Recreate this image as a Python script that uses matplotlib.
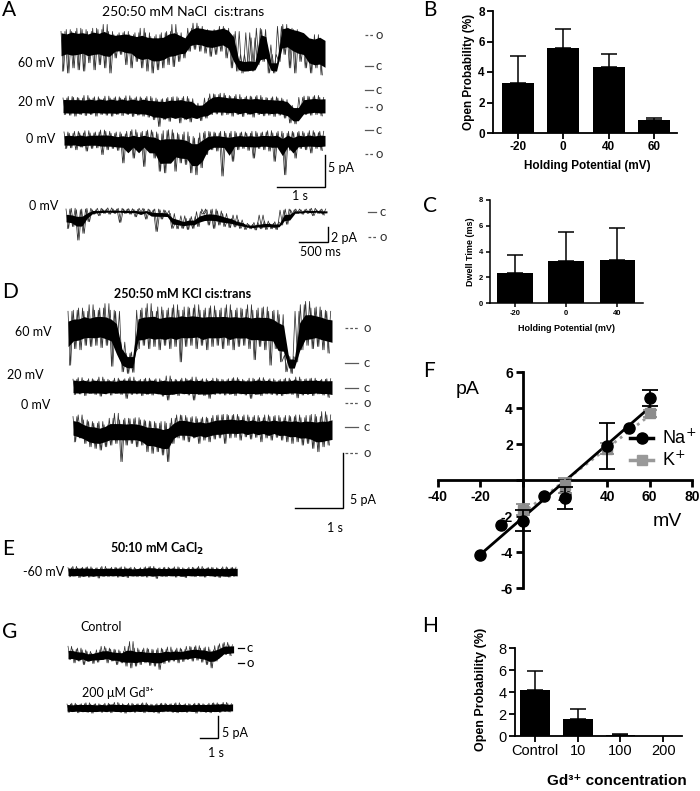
import numpy as np
import pandas as pd
import matplotlib
matplotlib.use('Agg')
import matplotlib.pyplot as plt
from matplotlib.lines import Line2D

plt.rcParams['font.family'] = ['Lato', 'DejaVu Sans']
PRISM = ['Liberation Sans', 'DejaVu Sans']

W, H = 700, 791

## Single-channel traces: max / min of each time bin, in pA (closed level = 0)

# A, NaCl 250:50, 5.5 s
a60_hi = [5.4, 5.7, 5.4, 5.9, 5.7, 5.4, 5.9, 5.7, 6.5, 5.4, 4.9, 5.2, 5.4, 4.9, 5.2, 5.9, 5.2, 4.6, 4.9, 5.2,
          5.4, 6.5, 5.2, 4.1, 5.9, 6.7, 6.2, 5.7, 5.4, 5.7, 6.2, 5.9, 4.9, 5.4, 1.8, 5.2, 4.4, 5.9, 5.7, 3.3,
          1.8, 6.2, 6.5, 5.9, 5.7, 4.9, 4.4, 3.9, 4.9, 3.6]
a60_lo = [-0.8, -1.1, -0.3, -0.6, -0.8, 0.5, -0.6, 0.2, -0.3, -1.1, 1.25, 1.8, 0.2, -0.3, 0.7, -0.3, -0.8, -1.1, -0.6, -0.3,
          0.2, -0.1, 0.7, 1.25, 2.3, 2.6, 2.3, 2.0, 1.5, 1.8, 2.3, 1.25, -0.3, -0.8, -1.1, -0.8, -0.8, 0.2, 0.7, -1.1,
          -1.1, 0.7, 1.8, -0.3, -1.1, 0.7, -0.3, -1.1, -0.3, -1.4]
# dense part of the 60 mV trace (mostly open, closed near 4.5 s and 5.3 s)
a60_core_hi = [5.2, 5.0, 5.3, 5.1, 5.2, 5.0, 5.3, 5.1, 5.4, 5.0, 4.8, 4.9, 5.0, 4.8, 4.6, 4.8, 4.5, 4.4, 4.4, 4.5,
               5.0, 5.2, 4.8, 4.4, 5.6, 6.0, 5.9, 5.7, 5.6, 5.7, 5.9, 5.6, 4.6, 0.9, 0.7, 0.8, 0.7, 4.9, 4.6, 0.5,
               0.5, 5.8, 6.0, 5.7, 5.5, 5.2, 4.4, 4.2, 4.5, 4.0]
a60_core_lo = [1.6, 1.9, 1.7, 1.8, 2.0, 1.6, 1.8, 1.9, 1.6, 1.5, 2.3, 2.4, 2.1, 2.0, 1.3, 1.0, 1.2, 0.8, 0.8, 1.0,
               1.5, 1.6, 1.9, 2.0, 3.2, 3.4, 3.3, 3.0, 2.9, 3.1, 3.3, 2.8, 0.8, -0.6, -0.8, -0.7, -0.6, 1.0, 1.2, -0.7,
               -0.8, 2.8, 3.0, 2.4, 2.0, 1.8, 0.5, 0.2, 0.3, -0.2]
a20_hi = [-1.25, -1.0, -1.15, -1.25, -0.85, -1.25, -1.05, -1.35, -0.95, -1.25, -1.05, -1.25, -0.9, -1.25, -1.05, -1.25,
          -1.0, -1.25, -1.5, -1.35, -1.15, -1.05, -1.25, -1.0, -1.35, -2.05, -2.55, -1.25, -0.6, -0.7, -0.5, -0.85,
          -1.0, -0.7, -1.15, -0.95, -1.05, -0.85, -1.15, -1.25, -1.05, -1.25, -1.5, -2.4, -2.8, -1.15, -0.95, -1.05,
          -0.85, -1.15]
a20_lo = [-3.85, -3.95, -4.1, -3.85, -4.0, -3.85, -4.1, -3.85, -3.95, -4.1, -3.85, -4.0, -3.85, -4.15, -3.95, -4.1,
          -4.25, -4.65, -5.7, -4.65, -4.9, -4.4, -5.15, -4.65, -5.0, -4.4, -4.8, -4.4, -3.85, -3.75, -3.95, -3.85,
          -4.1, -3.85, -4.15, -3.85, -4.25, -3.85, -4.05, -3.95, -4.15, -3.95, -4.4, -5.15, -5.3, -4.1, -3.85, -3.95,
          -3.85, -4.05]
a0_hi = [-0.3, -0.5, -0.2, -0.45, -0.1, -0.45, -0.3, 0.0, -0.2, -0.5, -0.3, -0.6, -0.2, 0.05, -0.4, -0.2, 0.0, -0.3,
         -0.6, -0.1, 0.05, -0.45, -0.7, -0.3, -1.0, -1.25, -0.45, -0.2, -0.3, -0.45, -0.2, -0.5, -0.2, -0.45, -0.3,
         -0.5, -0.2, -0.45, -0.3, -0.1, -0.45, -0.2, -0.5, -0.2, -0.4, -0.2, -0.45, -0.1, -0.4, -0.2]
a0_lo = [-2.9, -2.8, -3.1, -2.7, -3.3, -2.9, -2.8, -3.85, -3.1, -2.9, -3.2, -5.15, -3.3, -4.4, -3.1, -5.7, -3.3, -4.4,
         -6.45, -6.7, -4.4, -6.45, -5.15, -5.4, -6.7, -7.0, -5.9, -3.85, -3.1, -3.3, -7.2, -3.1, -4.9, -3.1, -2.9,
         -3.2, -4.4, -2.9, -3.1, -3.3, -4.9, -3.1, -7.0, -3.2, -4.4, -2.9, -3.1, -3.6, -2.9, -3.2]
a_open = [4.8, -2.65, -3.75]

# A, 0 mV expanded, 4.5 s
al_hi = [0.4, 0.5, 0.3, 0.4, 0.5, 0.3, 0.5, 0.4, 0.55, 0.4, 0.5, 0.4, 0.45, 0.35, 0.5, 0.4, 0.3, 0.4, 0.3, 0.2,
         -0.2, -1.3, -0.5, -0.85, -0.6, 0.05, 0.4, 0.3, 0.4, 0.15, -0.2, -0.85, -0.4, -1.05, -1.5, -1.65, -1.4, -0.4,
         -1.2, -1.5, -1.3, 0.25, 0.4, 0.3, 0.4, 0.3, 0.4, 0.5, 0.3, 0.4]
al_lo = [-2.2, -1.95, -3.75, -2.85, -1.3, -0.3, -0.5, -0.2, -0.3, -0.2, -1.4, -0.2, -0.3, -0.65, -0.2, -0.95, -0.3,
         -2.6, -0.95, -0.5, -2.2, -2.25, -2.2, -2.35, -2.2, -1.95, -0.3, -1.75, -2.2, -1.75, -1.95, -2.1, -2.0, -2.2,
         -2.35, -2.25, -2.4, -2.25, -2.35, -2.25, -2.35, -1.75, -1.65, -0.4, -0.2, -0.3, -0.2, -0.5, -0.2, -0.4]
al_open = -3.3

# D, KCl 250:50, 5.5 s
d60_hi = [4.7, 4.8, 5.0, 4.7, 5.3, 4.8, 5.0, 5.4, 4.8, 4.7, 1.9, 0.9, 1.0, 4.8, 5.0, 5.4, 4.7, 5.1, 4.8, 5.0,
          5.3, 4.8, 5.1, 5.0, 5.3, 4.8, 5.0, 5.2, 4.8, 5.0, 5.3, 4.8, 5.0, 4.9, 5.3, 4.8, 5.0, 5.1, 4.7, 4.8,
          4.4, 0.7, 0.6, 4.7, 5.3, 5.6, 5.0, 5.1, 4.8, 4.7]
d60_lo = [-0.2, 1.3, 1.2, 1.6, 1.5, 1.6, 1.4, 1.6, -0.3, 1.2, -0.8, -0.95, -0.85, 1.3, 1.6, 1.3, 1.5, 1.2, 1.6, 1.3,
          1.5, 0.1, 1.5, 1.6, 1.3, 1.6, 1.2, 1.5, 1.6, 1.3, 1.6, 1.2, 1.5, 1.6, 1.3, 0.3, 1.5, 1.2, -0.2, 1.3,
          0.1, -0.8, -0.95, 0.1, 1.2, 1.6, 1.3, 1.5, 1.2, 0.9]
d20_hi = [0.8, 0.95, 0.7, 0.85, 0.75, 1.0, 0.8, 0.7, 0.9, 0.75, 0.85, 1.0, 0.7, 0.8, 0.9, 0.75, 0.85, 0.7, 1.1, 0.8,
          0.75, 0.9, 0.8, 1.0, 0.75, 0.85, 0.7, 0.9, 0.8, 0.75, 0.85, 0.95, 0.8, 0.7, 0.9, 0.8, 0.95, 0.75, 0.85, 0.7,
          0.8, 0.9, 0.75, 1.0, 0.8, 0.85, 0.9, 0.7, 0.8, 0.85]
d20_lo = [-0.6, -0.55, -0.7, -0.5, -0.6, -0.75, -0.55, -0.65, -0.5, -0.6, -0.95, -0.6, -0.55, -0.7, -0.6, -0.65,
          -0.55, -0.75, -1.1, -0.6, -0.7, -0.55, -0.65, -1.1, -0.6, -0.7, -0.95, -0.6, -0.55, -0.65, -0.6, -0.7,
          -0.55, -0.65, -0.95, -0.6, -0.7, -0.55, -0.6, -0.65, -0.7, -0.55, -0.6, -0.9, -0.65, -0.6, -0.7, -0.55,
          -0.65, -0.85]
d0_hi = [0.95, 1.1, 0.65, 0.5, 0.35, 0.5, 0.2, 0.8, 1.25, 0.65, 0.8, 0.75, 0.85, 0.65, 0.55, 0.5, 0.35, 0.5, 0.35,
         0.8, 1.1, 1.05, 0.85, 0.95, 0.75, 0.9, 0.8, 1.05, 1.1, 1.15, 1.05, 1.15, 0.95, 1.1, 0.9, 1.05, 0.85, 1.1,
         0.95, 1.05, 0.85, 1.05, 0.95, 1.1, 0.85, 1.05, 1.15, 0.95, 1.4, 1.1]
d0_lo = [-1.35, -1.0, -1.5, -1.8, -1.95, -2.1, -1.8, -1.65, -1.5, -3.15, -1.65, -1.5, -1.8, -1.65, -2.25, -2.4,
         -2.25, -2.55, -3.15, -1.5, -1.0, -1.2, -1.35, -1.0, -1.5, -1.2, -1.35, -1.1, -1.0, -1.5, -1.0, -0.95, -1.2,
         -0.9, -1.1, -0.95, -1.35, -1.0, -1.2, -0.95, -1.2, -1.35, -1.5, -1.35, -1.65, -1.5, -1.95, -2.25, -1.8,
         -1.65]
d_open = [3.2, -1.35, -2.35]

# E, CaCl2 50:10, -60 mV
e_hi = [1.0, 1.3, 0.9, 1.1, 1.2, 0.9, 1.0, 1.3, 0.8, 1.1, 1.0, 1.2, 0.9, 1.1, 0.8, 1.0, 1.2, 1.3, 0.9, 1.0,
        1.1, 0.9, 1.2, 1.0, 0.8, 1.1, 1.0, 1.3, 0.9, 1.1, 1.0, 0.9, 1.2, 1.0, 1.1]
e_lo = [-1.1, -0.9, -1.3, -1.0, -1.2, -0.9, -1.4, -1.0, -1.1, -0.9, -1.2, -1.0, -1.3, -0.9, -1.1, -1.0, -1.2, -0.9,
        -1.5, -1.0, -1.1, -0.9, -1.2, -1.0, -1.3, -0.9, -1.1, -1.0, -1.2, -0.9, -1.1, -1.3, -1.0, -1.2, -1.0]

# G, control and 200 uM Gd3+
gc_hi = [0.4, -0.25, 0.0, -0.4, -0.75, -1.15, -0.4, 0.4, 0.0, -0.25, -0.4, -0.75, 0.4, 1.5, 0.0, -0.4, 0.0, -0.25,
         -0.4, 0.0, -0.25, 0.25, -0.4, 0.0, -0.25, 0.4, 0.25, 0.55, 0.0, 0.25, -0.4, 0.55, 1.0, 1.3, 0.75]
gc_lo = [-2.65, -3.4, -3.0, -3.8, -3.0, -3.55, -3.25, -2.65, -3.4, -3.0, -3.8, -3.4, -4.15, -4.55, -4.15, -3.8,
         -3.4, -4.0, -4.15, -4.9, -3.55, -3.25, -3.0, -3.4, -3.1, -2.65, -3.0, -2.8, -3.25, -3.8, -4.55, -3.0, -1.9,
         -1.5, -1.75]
gc_open = -3.4
gd_hi = [0.9, 1.1, 0.8, 1.0, 1.2, 0.9, 1.0, 0.8, 1.1, 0.9, 1.3, 1.0, 0.8, 1.1, 0.9, 1.0, 1.2, 0.9, 0.8, 1.0,
         1.1, 0.9, 1.0, 1.2, 0.8, 1.0, 0.9, 1.1, 1.0, 0.8, 1.1, 1.2, 0.9, 1.3, 1.0]
gd_lo = [-1.0, -0.8, -1.1, -0.9, -1.0, -1.2, -0.8, -1.0, -0.9, -1.1, -0.8, -1.0, -1.2, -0.9, -1.0, -0.8, -1.1, -0.9,
         -1.0, -1.2, -0.9, -0.8, -1.0, -1.1, -0.9, -1.0, -0.8, -1.2, -0.9, -1.0, -1.1, -0.9, -1.0, -0.8, -0.9]

dur_a, dur_al, dur_d, dur_e, dur_g = 5.5, 4.5, 5.5, 9.4, 9.2

## Bar charts
b_pot = ['-20', '0', '40', '60']
b_po = [3.25, 5.6, 4.35, 0.88]
b_err = [1.82, 1.2, 0.85, 0.1]

c_pot = ['-20', '0', '40']
c_dwell = [2.31, 3.27, 3.35]
c_err = [1.42, 2.28, 2.46]

h_conc = ['Control', '10', '100', '200']
h_po = [4.2, 1.52, 0.08, 0.0]
h_err = [1.7, 0.9, 0.12, 0.0]

## I-V
na_mv = [-20, -10, 0, 10, 20, 40, 50, 60]
na_pa = [-4.17, -2.5, -2.25, -0.9, -1.0, 1.9, 2.9, 4.55]
na_err = [0, 0, 0.6, 0, 0.63, 1.28, 0, 0.44]
k_mv = [0, 20, 40, 60]
k_pa = [-1.65, -0.3, 1.75, 3.7]
k_err = [0.3, 0.4, 0.3, 0.2]

fig = plt.figure(figsize=(W / 100, H / 100), dpi=100)


def px_axes(x0, y0, x1, y1):
    return fig.add_axes([x0 / W, 1 - y1 / H, (x1 - x0) / W, (y1 - y0) / H])


def ftext(x, y, s, **kw):
    kw.setdefault('fontsize', 9)
    fig.text(x / W, 1 - y / H, s, **kw)


def trace_group(box, tpx, ypx, pps, ppa):
    # axes in seconds / pA, pps = pixels per second, ppa = pixels per pA
    x0, y0, x1, y1 = box
    ax = px_axes(x0, y0, x1, y1)
    ax.set_xlim((x0 - tpx) / pps, (x1 - tpx) / pps)
    ax.set_ylim((ypx - y1) / ppa, (ypx - y0) / ppa)
    ax.axis('off')
    fx = lambda p: (p - tpx) / pps
    fy = lambda p: (ypx - p) / ppa
    return ax, fx, fy


def draw_trace(ax, t0, dur, hi, lo, y0, lw=0.55, dense=0.55, core=None):
    hi = np.asarray(hi, float)
    lo = np.asarray(lo, float)
    n = len(hi)
    dt = dur / n
    if core is None:
        # dense core: central part of the running-median band
        mh = pd.Series(hi).rolling(3, center=True, min_periods=1).median().values
        ml = pd.Series(lo).rolling(3, center=True, min_periods=1).median().values
        mid = (mh + ml) / 2
        half = (mh - ml) / 2 * dense
        c_hi, c_lo = mid + half, mid - half
    else:
        c_hi, c_lo = np.asarray(core[0]), np.asarray(core[1])
    tc = np.linspace(t0, t0 + dur, n)
    ax.fill_between(tc, c_lo + y0, c_hi + y0, color='k', lw=0, zorder=3)
    # flicker: min / max of each bin, two interleaved passes
    i = np.arange(n)
    for ph, (a, b) in [(0.0, (hi, lo)), (0.25, (lo, hi))]:
        t = np.empty(2 * n)
        v = np.empty(2 * n)
        t[0::2] = t0 + (i + ph) * dt
        t[1::2] = t0 + (i + ph + 0.5) * dt
        v[0::2] = a
        v[1::2] = b
        m = t <= t0 + dur
        ax.plot(t[m], v[m] + y0, color='0.2', lw=lw, zorder=2)


def levels(ax, xa, xb, y0, o_lev, xt, fs=9.5):
    ax.plot([xa, xb], [y0, y0], color='0.35', lw=0.9, clip_on=False)
    ax.plot([xa, xb], [y0 + o_lev] * 2, color='0.35', lw=0.9, ls=(0, (2.2, 1.6)), clip_on=False)
    ax.text(xt, y0, 'c', ha='left', va='center', fontsize=fs, color='0.2', clip_on=False)
    ax.text(xt, y0 + o_lev, 'o', ha='left', va='center', fontsize=fs, color='0.2', clip_on=False)


def scalebar(ax, x, y, dt, di, lw=1.0):
    ax.plot([x - dt, x, x], [y, y, y + di], color='k', lw=lw, clip_on=False, solid_joinstyle='miter')


## Panel letters
for lab, x, y in [('A', 2, 0), ('B', 423, 0), ('C', 423, 196), ('D', 2, 282), ('E', 2, 539),
                  ('F', 423, 361), ('G', 2, 622), ('H', 422, 616)]:
    ftext(x, y, lab, fontsize=15, va='top', ha='left')

## A
ax, fx, fy = trace_group((55, 15, 390, 200), 61, 66, 48, 6.4)
ftext(183, 12, '250:50 mM NaCl  cis:trans', fontsize=10, ha='center', va='center')
a_rows = [(a60_hi, a60_lo, 61, 66, '60 mV', 63, (a60_core_hi, a60_core_lo), 0.55),
          (a20_hi, a20_lo, 63, 90, '20 mV', 102, None, 0.75),
          (a0_hi, a0_lo, 64, 130, '0 mV', 139, None, 0.6)]
for k, (hi, lo, xs, yc, lab, ly, core, dn) in enumerate(a_rows):
    draw_trace(ax, fx(xs), dur_a - (xs - 61) / 48, hi, lo, fy(yc), core=core, dense=dn)
    levels(ax, fx(365), fx(373), fy(yc), a_open[k], fx(376))
    ftext(55, ly, lab, ha='right', va='center')
scalebar(ax, fx(325), fy(187), 1.0, 5.0)
ftext(328, 168, '5 pA', ha='left', va='center')
ftext(300, 196, '1 s', ha='center', va='center')

ax, fx, fy = trace_group((55, 200, 390, 262), 66, 212, 58, 7.5)
draw_trace(ax, 0, dur_al, al_hi, al_lo, 0, lw=0.55, dense=0.4)
levels(ax, fx(368), fx(376), 0, al_open, fx(379))
ftext(58, 206, '0 mV', ha='right', va='center')
scalebar(ax, fx(328), fy(242), 0.5, 2.0)
ftext(331, 238, '2 pA', ha='left', va='center')
ftext(320, 252, '500 ms', ha='center', va='center')

## D
ax, fx, fy = trace_group((55, 290, 390, 535), 68, 363, 48, 11)
ftext(183, 294, '250:50 mM KCl cis:trans', fontsize=9, fontweight='bold', ha='center', va='center')
d_rows = [(d60_hi, d60_lo, 68, 363, '60 mV', 332, 52, 0.55), (d20_hi, d20_lo, 73, 388, '20 mV', 375, 44, 0.8),
          (d0_hi, d0_lo, 73, 427, '0 mV', 405, 50, 0.6)]
for k, (hi, lo, xs, yc, lab, ly, lx, dn) in enumerate(d_rows):
    draw_trace(ax, fx(xs), dur_d - (xs - 68) / 48, hi, lo, fy(yc), dense=dn)
    levels(ax, fx(345), fx(358), fy(yc), d_open[k], fx(364))
    ftext(lx, ly, lab, ha='right', va='center')
scalebar(ax, fx(343), fy(508), 1.0, 5.0)
ftext(350, 500, '5 pA', ha='left', va='center')
ftext(335, 528, '1 s', ha='center', va='center')

## E
ax, fx, fy = trace_group((55, 555, 260, 590), 68, 572, 18, 4.4)
draw_trace(ax, 0, dur_e, e_hi, e_lo, 0, lw=0.5, dense=0.8)
ftext(157, 549, r'50:10 mM CaCl$_\mathbf{2}$', fontsize=9, fontweight='bold', ha='center', va='center')
ftext(64, 572, '-60 mV', ha='right', va='center')

## G
ax, fx, fy = trace_group((55, 620, 270, 765), 68, 648, 18, 4.4)
draw_trace(ax, 0, dur_g, gc_hi, gc_lo, 0, lw=0.5, dense=0.6)
draw_trace(ax, fx(67), dur_g, gd_hi, gd_lo, fy(708), lw=0.5, dense=0.8)
ax.plot([fx(238), fx(244)], [0, 0], color='k', lw=0.9, clip_on=False)
ax.plot([fx(238), fx(244)], [gc_open] * 2, color='k', lw=0.9, clip_on=False)
ax.text(fx(246), 0, 'c', ha='left', va='center', fontsize=9.5)
ax.text(fx(246), gc_open, 'o', ha='left', va='center', fontsize=9.5)
ftext(80, 627, 'Control', ha='left', va='center')
ftext(82, 693, '200 \u03bcM Gd\u00b3\u207a', ha='left', va='center')
scalebar(ax, fx(218), fy(738), 1.0, 5.0)
ftext(222, 733, '5 pA', ha='left', va='center')
ftext(216, 753, '1 s', ha='center', va='center')


def prism(ax, lw=1.3, tl=4):
    for s in ['top', 'right']:
        ax.spines[s].set_visible(False)
    for s in ['left', 'bottom']:
        ax.spines[s].set_linewidth(lw)
    ax.tick_params(width=lw, length=tl, direction='out', pad=2)


def bars(ax, vals, errs, cap):
    x = np.arange(len(vals))
    errs = np.array(errs)
    m = errs > 0
    ax.errorbar(x[m], np.array(vals)[m], yerr=[np.zeros(m.sum()), errs[m]], fmt='none',
                ecolor='k', elinewidth=1.1, capsize=cap, capthick=1.1, zorder=1)
    ax.bar(x, vals, width=0.7, color='k', zorder=2)
    return x


## B
ax = px_axes(493, 11, 677, 133)
x = bars(ax, b_po, b_err, 6)
ax.set_xlim(-0.54, 3.5)
ax.set_ylim(0, 8)
ax.set_yticks([0, 2, 4, 6, 8])
ax.set_xticks(x, b_pot)
prism(ax)
for t in ax.get_xticklabels() + ax.get_yticklabels():
    t.set_family(PRISM)
    t.set_fontweight('bold')
    t.set_fontsize(8.5)
ax.set_ylabel('Open Probability (%)', family=PRISM, fontweight='bold', fontsize=8.5)
ax.set_xlabel('Holding Potential (mV)', family=PRISM, fontweight='bold', fontsize=8.5)
ax.yaxis.set_label_coords(-0.1, 0.5)
ax.xaxis.set_label_coords(0.51, -0.22)

## C
ax = px_axes(490, 200, 643, 303)
x = bars(ax, c_dwell, c_err, 5.5)
ax.set_xlim(-0.49, 2.5)
ax.set_ylim(0, 8)
ax.set_yticks([0, 2, 4, 6, 8])
ax.set_xticks(x, c_pot)
prism(ax, lw=1.1, tl=3)
for t in ax.get_xticklabels() + ax.get_yticklabels():
    t.set_family(PRISM)
    t.set_fontweight('bold')
    t.set_fontsize(5.5)
ax.set_ylabel('Dwell Time (ms)', family=PRISM, fontweight='bold', fontsize=6.5)
ax.set_xlabel('Holding Potential (mV)', family=PRISM, fontweight='bold', fontsize=6.5)
ax.yaxis.set_label_coords(-0.1, 0.5)
ax.xaxis.set_label_coords(0.5, -0.2)

## F
ax = px_axes(438, 372, 692, 588)
ax.set_xlim(-40, 80)
ax.set_ylim(-6, 6)
for s in ['top', 'right']:
    ax.spines[s].set_visible(False)
for s in ['left', 'bottom']:
    ax.spines[s].set_position(('data', 0))
    ax.spines[s].set_linewidth(2)
ax.tick_params(width=2, length=5, direction='out', pad=2)
ax.set_xticks([-40, -20, 0, 20, 40, 60, 80], ['-40', '-20', '', '20', '40', '60', '80'])
ax.set_yticks([-6, -4, -2, 0, 2, 4, 6], ['-6', '-4', '-2', '', '2', '4', '6'])
for t in ax.get_xticklabels() + ax.get_yticklabels():
    t.set_family(PRISM)
    t.set_fontweight('bold')
    t.set_fontsize(10)
na_fit = np.polyfit(na_mv, na_pa, 1)
k_fit = np.polyfit(k_mv, k_pa, 1)
xs = np.array([min(na_mv), max(na_mv)])
ax.plot(xs, np.polyval(na_fit, xs), color='k', lw=2, zorder=3)
xs = np.array([min(k_mv), max(k_mv)])
ax.plot(xs, np.polyval(k_fit, xs), color='0.6', lw=2, ls=(0, (1, 1.6)), zorder=2)
ke = np.array(k_err)
ax.errorbar(k_mv, k_pa, yerr=ke, fmt='s', color='0.55', ms=7, elinewidth=1.3, capsize=5, capthick=1.3,
            zorder=4)
ne = np.array(na_err)
m = ne > 0
ax.errorbar(np.array(na_mv)[m], np.array(na_pa)[m], yerr=ne[m], fmt='none', ecolor='k', elinewidth=1.3,
            capsize=6, capthick=1.3, zorder=5)
ax.plot(na_mv, na_pa, 'o', color='k', ms=8, zorder=6)
ftext(468, 390, 'pA', family=PRISM, fontsize=14, ha='center', va='center')
ftext(667, 522, 'mV', family=PRISM, fontsize=14, ha='center', va='center')
hnd = [Line2D([], [], color='k', lw=2.5, marker='o', ms=8),
       Line2D([], [], color='0.6', lw=2.5, marker='s', ms=7)]
leg = ax.legend(hnd, ['Na$^{+}$', 'K$^{+}$'], loc='upper left', bbox_to_anchor=(0.72, 0.78), frameon=False,
                handlelength=1.3, handletextpad=0.5, labelspacing=0.15, borderpad=0,
                prop={'family': PRISM, 'size': 13})

## H
ax = px_axes(515, 648, 682, 736)
x = bars(ax, h_po, h_err, 6)
ax.set_xlim(-0.47, 3.44)
ax.set_ylim(0, 8)
ax.set_yticks([0, 2, 4, 6, 8])
ax.set_xticks(x, h_conc)
prism(ax, lw=1.3, tl=4)
for t in ax.get_xticklabels() + ax.get_yticklabels():
    t.set_family(PRISM)
    t.set_fontsize(10.5)
ax.set_ylabel('Open Probability (%)', family=PRISM, fontweight='bold', fontsize=9)
ax.set_xlabel('Gd\u00b3\u207a concentration', family=PRISM, fontweight='bold', fontsize=11)
ax.yaxis.set_label_coords(-0.17, 0.53)
ax.xaxis.set_label_coords(0.61, -0.43)

fig.savefig('out.png', dpi=100)
